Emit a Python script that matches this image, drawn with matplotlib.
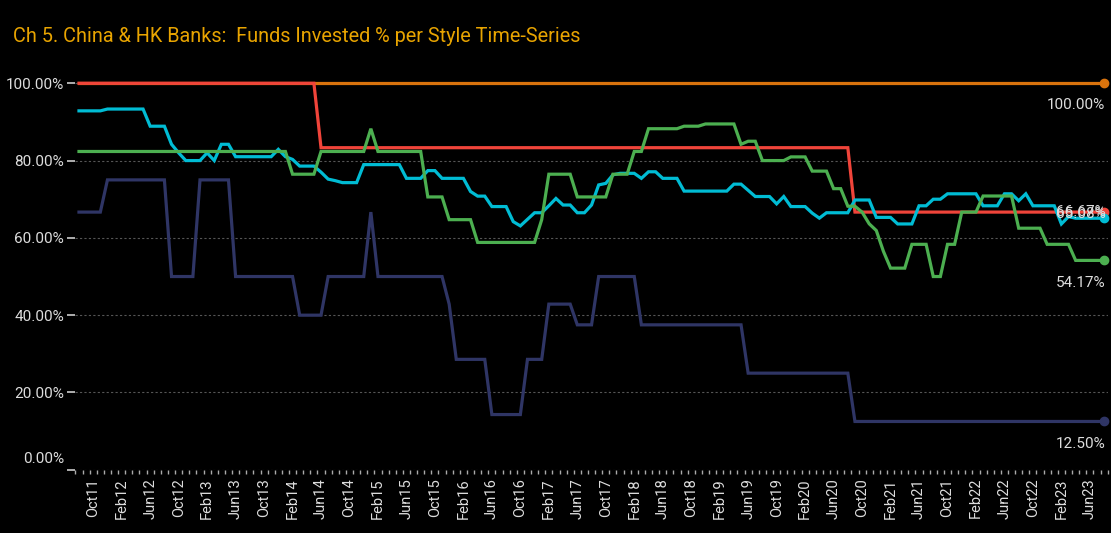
import matplotlib
matplotlib.use("Agg")
import matplotlib.pyplot as plt
import matplotlib.transforms as mtransforms
from matplotlib import font_manager

# monthly observations, Aug11 .. Aug23
months = ["Jan", "Feb", "Mar", "Apr", "May", "Jun", "Jul", "Aug", "Sep", "Oct", "Nov", "Dec"]
dates = [months[(7 + k) % 12] + str(11 + (7 + k) // 12) for k in range(145)]

total = [100.0] * 145
growth = [100.0] * 34 + [83.33] * 75 + [66.67] * 36
garp = ([92.86] * 4 + [93.33] * 6 + [88.89] * 3 + [84.21, 82.0] + [80.0] * 3 + [82.0, 80.0]
        + [84.21] * 2 + [81.0] * 6 + [82.9, 81.0, 80.3] + [78.57] * 3 + [77.0, 75.2, 74.8]
        + [74.29] * 3 + [78.95] * 6 + [75.4] * 3 + [77.4] * 2 + [75.4] * 4 + [72.0]
        + [70.8] * 2 + [68.1] * 3 + [64.2, 63.1, 64.8] + [66.5] * 2 + [68.3, 70.2]
        + [68.5] * 2 + [66.5] * 2 + [68.5, 73.7, 74.1, 76.3] + [76.7] * 3 + [75.4]
        + [77.1] * 2 + [75.4] * 3 + [72.1] * 7 + [73.9] * 2 + [72.3] + [70.7] * 3
        + [68.8, 70.7] + [68.1] * 3 + [66.4, 65.1] + [66.5] * 4 + [69.8] * 3 + [65.3] * 3
        + [63.6] * 3 + [68.3] * 2 + [70.0] * 2 + [71.4] * 5 + [68.3] * 3 + [71.4] * 2
        + [69.6, 71.4] + [68.3] * 4 + [63.6, 65.5] + [65.08] * 5)
yield_ = ([82.35] * 30 + [76.47] * 4 + [82.35] * 7 + [88.24] + [82.35] * 7 + [70.59] * 3
          + [64.71] * 4 + [58.82] * 9 + [64.71] + [76.47] * 4 + [70.59] * 5 + [76.47] * 3
          + [82.35] * 2 + [88.24] * 5 + [88.89] * 3 + [89.47] * 5 + [84.21] + [85.0] * 2
          + [80.0] * 4 + [80.95] * 3 + [77.27] * 3 + [72.73] * 2 + [68.18] * 2 + [66.67]
          + [63.64, 61.9, 56.52] + [52.17] * 3 + [58.33] * 3 + [50.0] * 2 + [58.33] * 2
          + [66.67] * 3 + [70.83] * 5 + [62.5] * 4 + [58.33] * 4 + [54.17] * 5)
value = ([66.67] * 4 + [75.0] * 9 + [50.0] * 4 + [75.0] * 5 + [50.0] * 9 + [40.0] * 4
         + [50.0] * 6 + [66.67] + [50.0] * 10 + [42.86] + [28.57] * 5 + [14.29] * 5
         + [28.57] * 3 + [42.86] * 4 + [37.5] * 3 + [50.0] * 6 + [37.5] * 15 + [25.0] * 15
         + [12.5] * 36)

series = [
    (total, "#D9730D", 16),
    (growth, "#F0443A", 0),
    (value, "#2F3565", 16),
    (garp, "#00BCD4", -3),
    (yield_, "#4CAF50", 16),
]

names = {f.name for f in font_manager.fontManager.ttflist}
font = "Liberation Sans Narrow" if "Liberation Sans Narrow" in names else "Roboto"
plt.rcParams["font.family"] = [font, "DejaVu Sans"]

fig = plt.figure(figsize=(11.11, 5.33), dpi=100, facecolor="black")
ax = fig.add_axes([0.0675, 0.1186, 0.9295, 0.7542])
ax.set_facecolor("black")

x = list(range(len(dates)))
for vals, color, off in series:
    ax.plot(x, vals, color=color, lw=2.3, solid_joinstyle="miter", clip_on=False)
    ax.plot(x[-1], vals[-1], "o", color=color, ms=6, clip_on=False)
    ax.annotate(f"{vals[-1]:.2f}%", (x[-1], vals[-1]), xytext=(1, -off),
                textcoords="offset points", ha="right", va="center",
                color="#dddddd", fontsize=11)

ax.set_xlim(-0.56, 144.4)
ax.set_ylim(0, 104)
ax.set_yticks([0, 20, 40, 60, 80, 100])
ax.set_yticklabels([f"{v:.2f}%" for v in [0, 20, 40, 60, 80, 100]])
ax.grid(axis="y", color="#555555", ls=(0, (2, 2)), lw=0.8)
ax.set_axisbelow(True)

ax.set_xticks(x[2::4])
ax.set_xticklabels(dates[2::4], rotation=90)
ax.set_xticks([i + 0.5 for i in range(-1, 145)], minor=True)
ax.tick_params(axis="x", which="major", length=0, pad=6, colors="#dddddd", labelsize=10.5)
ax.tick_params(axis="x", which="minor", length=3, width=1, color="#aaaaaa")
ax.tick_params(axis="y", length=6, width=1.2, color="#cccccc", colors="#dddddd",
               labelsize=11, pad=2)
for s in ax.spines.values():
    s.set_visible(False)

for lab in ax.get_yticklabels():
    if lab.get_text() == "0.00%":
        lab.set_transform(lab.get_transform() +
                          mtransforms.ScaledTranslation(0, 12 / 100, fig.dpi_scale_trans))

fig.text(0.0117, 0.932, "Ch 5. China & HK Banks:  Funds Invested % per Style Time-Series",
         color="#E8A400", fontsize=14.3, va="center", ha="left")

fig.savefig("out.png", dpi=100, facecolor="black")
